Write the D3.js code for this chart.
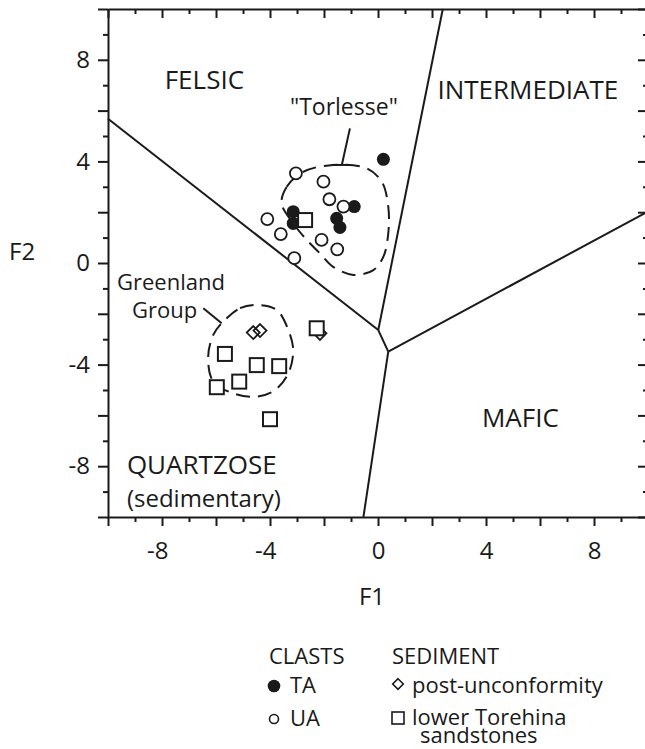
<!DOCTYPE html>
<html>
<head>
<meta charset="utf-8">
<script src="https://cdn.jsdelivr.net/npm/d3@7"></script>
<style>
  html, body { margin: 0; padding: 0; background: #fff; }
  svg { display: block; }
  text { font-family: "Open Sans", "DejaVu Sans", sans-serif; fill: #1a1a1a; }
</style>
</head>
<body>
<svg id="chart" width="645" height="749"></svg>
<script>
// Discriminant function scores (F1, F2)
const taClasts = [[0.2, 4.08], [-0.88, 2.22], [-3.14, 2.02], [-3.14, 1.56], [-1.53, 1.76], [-1.41, 1.40]];
const uaClasts = [[-3.04, 3.53], [-2.02, 3.2], [-1.8, 2.51], [-1.28, 2.22], [-4.1, 1.73], [-3.6, 1.14],
                  [-2.09, 0.91], [-1.51, 0.54], [-3.1, 0.19]];
const postUnconformity = [[-4.62, -2.74], [-4.37, -2.66], [-2.15, -2.77]];
const lowerTorehina = [[-2.7, 1.69], [-2.27, -2.57], [-5.67, -3.58], [-4.49, -4.02], [-3.66, -4.06],
                       [-5.14, -4.67], [-5.97, -4.89], [-4.0, -6.15]];

// Provenance field boundaries
const felsicQuartzose = [[-10, 5.68], [0.01, -2.64]];
const felsicIntermediate = [[0.01, -2.64], [2.4, 10]];
const junctionLink = [[0.01, -2.64], [0.38, -3.49]];
const intermediateMafic = [[0.38, -3.49], [10, 2.03]];
const quartzoseMafic = [[0.38, -3.49], [-0.54, -10]];

// Outlined groups
const torlesseEnvelope = [[-3.57, 2.35], [-3.38, 3.0], [-2.77, 3.59], [-1.66, 3.86], [-0.42, 3.73], [0.14, 3.2],
                          [0.38, 2.22], [0.38, 1.17], [0.2, 0.25], [-0.17, -0.28], [-0.91, -0.47], [-1.66, -0.15],
                          [-2.15, 0.38], [-2.64, 0.91], [-3.14, 1.56]];
const greenlandEnvelope = [[-5.79, -2.37], [-5.11, -1.78], [-4.49, -1.65], [-3.75, -1.85], [-3.32, -2.64],
                           [-3.14, -3.43], [-3.32, -4.34], [-3.81, -5.0], [-4.49, -5.26], [-5.36, -5.13],
                           [-6.1, -4.67], [-6.29, -3.69], [-6.1, -2.83]];
const torlesseLeader = [[-1.04, 5.3], [-1.34, 3.86]];
const torlesseBar = [[-1.71, 3.86], [-1.09, 3.86]];
const greenlandLeader = [[-6.47, -1.78], [-5.79, -2.37]];

const xTicks = d3.range(-10, 11, 1);
const yTicks = d3.range(-10, 11, 1);
const labelledTicks = [-8, -4, 0, 4, 8];

const fieldLabels = [
  { text: "FELSIC", f1: -7.9, f2: 6.85 },
  { text: "INTERMEDIATE", f1: 2.2, f2: 6.45 },
  { text: "MAFIC", f1: 3.85, f2: -6.45 },
  { text: "QUARTZOSE", f1: -9.3, f2: -8.3 },
];

const svg = d3.select("#chart");
const x = d3.scaleLinear().domain([-10, 10]).range([108, 648]);
const y = d3.scaleLinear().domain([-10, 10]).range([517, 9]);

const ink = "#1a1a1a";
const isMajor = d => Math.abs(d % 2) === 0;
const fmt = d => labelledTicks.includes(d) ? String(d) : "";

function styleAxis(g) {
  g.select(".domain").attr("stroke", ink).attr("stroke-width", 2);
  g.selectAll(".tick line").attr("stroke", ink).attr("stroke-width", 2);
  g.selectAll(".tick text").style("font-size", "24px").attr("fill", ink);
}

// Bottom axis
const gx = svg.append("g").attr("transform", `translate(0,${y(-10)})`)
  .call(d3.axisBottom(x).tickValues(xTicks).tickFormat(fmt).tickSizeInner(9).tickSizeOuter(0).tickPadding(16));
styleAxis(gx);
gx.selectAll(".tick line").attr("y2", d => isMajor(d) ? 9 : 5);
gx.selectAll(".tick text").attr("dx", d => d < 0 ? "-0.2em" : 0);

// Top axis (ticks inward)
const gt = svg.append("g").attr("transform", `translate(0,${y(10)})`)
  .call(d3.axisTop(x).tickValues(xTicks).tickFormat("").tickSizeInner(-9).tickSizeOuter(0));
styleAxis(gt);
gt.selectAll(".tick line").attr("y2", d => isMajor(d) ? 9 : 5);

// Left axis
const gy = svg.append("g").attr("transform", `translate(${x(-10)},0)`)
  .call(d3.axisLeft(y).tickValues(yTicks).tickFormat(fmt).tickSizeInner(10).tickSizeOuter(0).tickPadding(8));
styleAxis(gy);
gy.selectAll(".tick line").attr("x2", d => isMajor(d) ? -10 : -5);

// Right axis (ticks inward)
const gr = svg.append("g").attr("transform", `translate(${x(10)},0)`)
  .call(d3.axisRight(y).tickValues(yTicks).tickFormat("").tickSizeInner(-10).tickSizeOuter(0));
styleAxis(gr);
gr.selectAll(".tick line").attr("x2", d => isMajor(d) ? -10 : -5);

// Axis titles
svg.append("text").attr("x", 372).attr("y", 605).attr("text-anchor", "middle")
  .style("font-size", "24px").text("F1");
svg.append("text").attr("x", 9).attr("y", 260).style("font-size", "24px").text("F2");

// Field boundaries
const line = d3.line().x(d => x(d[0])).y(d => y(d[1]));
[felsicQuartzose, felsicIntermediate, junctionLink, intermediateMafic, quartzoseMafic].forEach(seg => {
  svg.append("path").attr("d", line(seg)).attr("fill", "none")
    .attr("stroke", ink).attr("stroke-width", 2);
});

// Field names
fieldLabels.forEach(l => {
  svg.append("text").attr("x", x(l.f1)).attr("y", y(l.f2)).style("font-size", "26px").text(l.text);
});
svg.append("text").attr("x", x(-9.3)).attr("y", 507).style("font-size", "24px").text("(sedimentary)");

// Group envelopes
const closed = d3.line().x(d => x(d[0])).y(d => y(d[1])).curve(d3.curveCatmullRomClosed.alpha(0.5));
[torlesseEnvelope, greenlandEnvelope].forEach(env => {
  svg.append("path").attr("d", closed(env)).attr("fill", "none")
    .attr("stroke", ink).attr("stroke-width", 2).attr("stroke-dasharray", "14,8");
});
[torlesseLeader, torlesseBar, greenlandLeader].forEach(seg => {
  svg.append("path").attr("d", line(seg)).attr("fill", "none")
    .attr("stroke", ink).attr("stroke-width", 2);
});
svg.append("text").attr("x", 290).attr("y", 115).style("font-size", "23px").text("\"Torlesse\"");
svg.append("text").attr("x", 117).attr("y", 290).style("font-size", "22px").text("Greenland");
svg.append("text").attr("x", 132).attr("y", 318).style("font-size", "22px").text("Group");

// Samples
const diamond = (cx, cy, h) => `M${cx},${cy - h}L${cx + h},${cy}L${cx},${cy + h}L${cx - h},${cy}Z`;

svg.append("g").selectAll("circle").data(taClasts).join("circle")
  .attr("cx", d => x(d[0])).attr("cy", d => y(d[1])).attr("r", 6.5).attr("fill", ink);
svg.append("g").selectAll("circle").data(uaClasts).join("circle")
  .attr("cx", d => x(d[0])).attr("cy", d => y(d[1])).attr("r", 6)
  .attr("fill", "#fff").attr("stroke", ink).attr("stroke-width", 1.8);
svg.append("g").selectAll("path").data(postUnconformity).join("path")
  .attr("d", d => diamond(x(d[0]), y(d[1]), 6.5))
  .attr("fill", "none").attr("stroke", ink).attr("stroke-width", 1.8);
svg.append("g").selectAll("rect").data(lowerTorehina).join("rect")
  .attr("x", d => x(d[0]) - 7).attr("y", d => y(d[1]) - 7).attr("width", 14).attr("height", 14)
  .attr("fill", "#fff").attr("stroke", ink).attr("stroke-width", 2);

// Legend
const lg = svg.append("g").style("font-size", "22px");
lg.append("text").attr("x", 269).attr("y", 664).text("CLASTS");
lg.append("text").attr("x", 392).attr("y", 664).text("SEDIMENT");
lg.append("circle").attr("cx", 274).attr("cy", 686).attr("r", 6.3).attr("fill", ink);
lg.append("text").attr("x", 290).attr("y", 693).text("TA");
lg.append("circle").attr("cx", 274).attr("cy", 719).attr("r", 4.5)
  .attr("fill", "#fff").attr("stroke", ink).attr("stroke-width", 1.6);
lg.append("text").attr("x", 290).attr("y", 726).text("UA");
lg.append("path").attr("d", diamond(398, 684, 5.3))
  .attr("fill", "none").attr("stroke", ink).attr("stroke-width", 1.6);
lg.append("text").attr("x", 412).attr("y", 693).text("post-unconformity");
lg.append("rect").attr("x", 392).attr("y", 712).attr("width", 12).attr("height", 12)
  .attr("fill", "#fff").attr("stroke", ink).attr("stroke-width", 1.6);
const torehina = lg.append("text").attr("x", 412).attr("y", 725);
torehina.append("tspan").attr("x", 412).text("lower Torehina");
torehina.append("tspan").attr("x", 420).attr("dy", 18).text("sandstones");
</script>
</body>
</html>
